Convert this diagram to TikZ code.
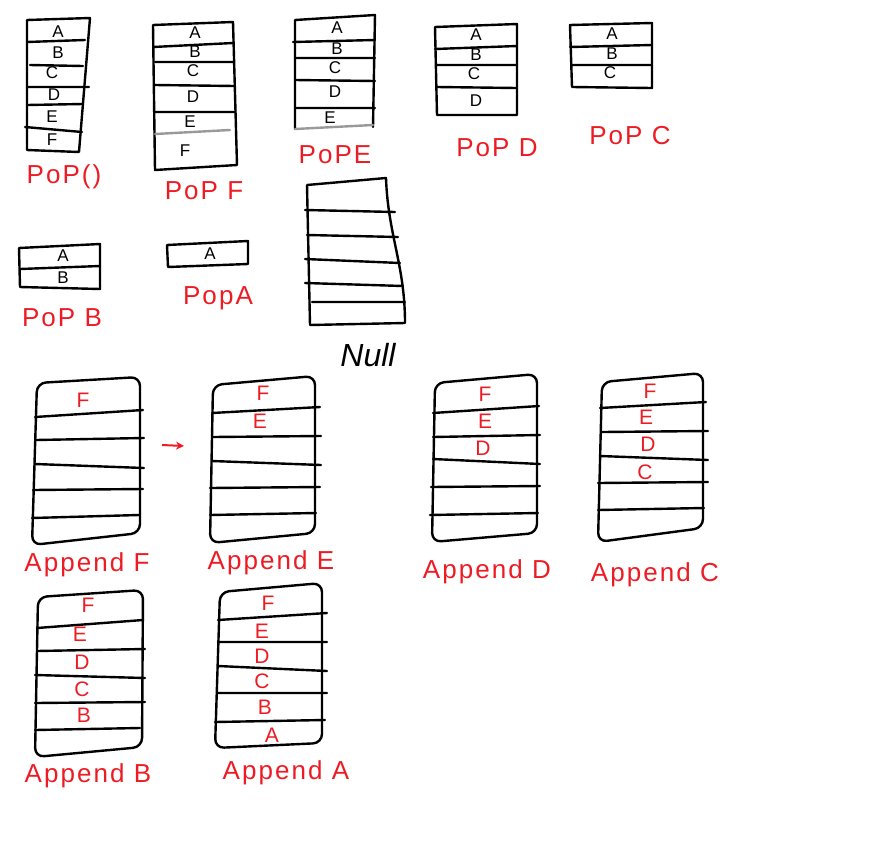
\documentclass[tikz,border=0pt]{standalone}
\usepackage{fontspec}
\setmainfont{Liberation Sans}
\usetikzlibrary{arrows.meta}
\definecolor{pred}{HTML}{ED1C24}
\tikzset{
  ln/.style={line width=2.4pt, line join=round, line cap=round},
  rbox/.style={ln, rounded corners=9pt},
  bl/.style={inner sep=0pt, font=\fontsize{17}{17}\selectfont},
  rl/.style={inner sep=0pt, text=pred, font=\fontsize{21}{21}\selectfont},
  lbl/.style={inner sep=0pt, text=pred, font=\fontsize{26}{26}\selectfont\addfontfeature{LetterSpace=8}},
}
\begin{document}
\begin{tikzpicture}[x=1pt,y=-1pt]
\useasboundingbox (0,0) rectangle (887,847);
% ---------- Pop() ----------
\draw[ln] (27,20) -- (90,18) -- (79,152) -- (27,150) -- cycle;
\draw[ln] (27,42) -- (85,40) (30,65) -- (83,66) (27,87) -- (89,87) (27,105) -- (83,104) (25,127) -- (82,132);
\node[bl] (s1a) at (58,32) {A};
\node[bl] (s1b) at (58,53) {B};
\node[bl] (s1c) at (52,73) {C};
\node[bl] (s1d) at (54,95) {D};
\node[bl] (s1e) at (52,117) {E};
\node[bl] (s1f) at (52,140) {F};
\node[lbl] (l1) at (64,177) {PoP()};
% ---------- Pop F ----------
\draw[ln] (153,25) -- (233,22) -- (237,165) -- (155,170) -- cycle;
\draw[ln] (153,47) -- (233,43) (155,62) -- (233,62) (155,85) -- (235,86) (155,112) -- (235,112);
\draw[ln,black!40] (155,134) -- (230,130);
\node[bl] (s2a) at (195,33) {A};
\node[bl] (s2b) at (195,52) {B};
\node[bl] (s2c) at (193,71) {C};
\node[bl] (s2d) at (193,97) {D};
\node[bl] (s2e) at (190,122) {E};
\node[bl] (s2f) at (185,151) {F};
\node[lbl] (l2) at (204,191) {PoP F};
% ---------- PopE ----------
\draw[ln] (295,129) -- (295,20) -- (375,15) -- (373,127);
\draw[ln,black!40] (295,129) -- (373,125);
\draw[ln] (293,42) -- (375,40) (295,58) -- (375,58) (295,80) -- (375,81) (295,108) -- (375,108);
\node[bl] (s3a) at (337,28) {A};
\node[bl] (s3b) at (337,49) {B};
\node[bl] (s3c) at (335,68) {C};
\node[bl] (s3d) at (335,92) {D};
\node[bl] (s3e) at (330,118) {E};
\node[lbl] (l3) at (335,155) {PoPE};
% ---------- Pop D ----------
\draw[ln] (435,27) -- (517,24) -- (517,115) -- (437,115) -- cycle;
\draw[ln] (435,49) -- (517,46) (437,65) -- (517,65) (437,87) -- (517,88);
\node[bl] (s4a) at (476,35) {A};
\node[bl] (s4b) at (476,55) {B};
\node[bl] (s4c) at (474,74) {C};
\node[bl] (s4d) at (476,101) {D};
\node[lbl] (l4) at (497,148) {PoP D};
% ---------- Pop C ----------
\draw[ln] (570,25) -- (652,23) -- (652,88) -- (572,87) -- cycle;
\draw[ln] (570,47) -- (652,45) (572,65) -- (652,65);
\node[bl] (s5a) at (612,34) {A};
\node[bl] (s5b) at (612,54) {B};
\node[bl] (s5c) at (610,73) {C};
\node[lbl] (l5) at (630,136) {PoP C};
% ---------- Pop B ----------
\draw[ln] (19,248) -- (100,244) -- (100,289) -- (20,287) -- cycle;
\draw[ln] (20,269) -- (100,266);
\node[bl] (s6a) at (63,256) {A};
\node[bl] (s6b) at (63,278) {B};
\node[lbl] (l6) at (62,318) {PoP B};
% ---------- Pop A ----------
\draw[ln] (167,245) -- (248,241) -- (248,264) -- (168,267) -- cycle;
\node[bl] (s7a) at (210,254) {A};
\node[lbl] (l7) at (218,298) {PopA};
% ---------- Null ----------
\draw[ln] (307,185) -- (386,178) .. controls (388,235) and (405,265) .. (405,323) -- (310,325) -- cycle;
\draw[ln] (305,210) -- (395,212) (307,235) -- (398,237) (305,259) -- (400,263) (305,283) -- (403,286) (312,302) -- (405,302);
\node[inner sep=0pt, font=\fontsize{32}{32}\selectfont\itshape] (lnull) at (368,355) {Null};
% ---------- Append F ----------
\draw[rbox] (37,383) -- (140,377) -- (140,533) -- (32,545) -- cycle;
\draw[ln] (35,417) -- (143,410) (36,440) -- (144,438) (35,464) -- (144,468) (33,490) -- (143,489) (32,518) -- (139,515);
\node[rl] (a1f) at (83,400) {F};
\node[lbl] (l8) at (87,565) {Append F};
\coordinate (arrs) at (162,445);
\coordinate (arre) at (184,446);
\draw[pred, line width=2pt, -{Stealth[length=8pt,width=8pt]}] (arrs) -- (arre);
% ---------- Append E ----------
\draw[rbox] (213,385) -- (315,376) -- (315,533) -- (210,543) -- cycle;
\draw[ln] (212,413) -- (320,407) (213,437) -- (321,436) (212,461) -- (321,465) (210,488) -- (320,487) (210,515) -- (316,513);
\node[rl] (a2f) at (263,393) {F};
\node[rl] (a2e) at (260,421) {E};
\node[lbl] (l9) at (271,563) {Append E};
% ---------- Append D ----------
\draw[rbox] (435,383) -- (537,374) -- (537,533) -- (432,542) -- cycle;
\draw[ln] (433,413) -- (539,406) (433,437) -- (540,435) (433,459) -- (540,464) (431,487) -- (540,486) (430,515) -- (538,513);
\node[rl] (a3f) at (485,394) {F};
\node[rl] (a3e) at (485,421) {E};
\node[rl] (a3d) at (483,448) {D};
\node[lbl] (l10) at (487,572) {Append D};
% ---------- Append C ----------
\draw[rbox] (602,382) -- (703,373) -- (703,528) -- (598,542) -- cycle;
\draw[ln] (600,408) -- (706,402) (602,432) -- (708,431) (600,456) -- (708,460) (598,483) -- (708,482) (598,510) -- (704,508);
\node[rl] (a4f) at (650,391) {F};
\node[rl] (a4e) at (646,417) {E};
\node[rl] (a4d) at (648,444) {D};
\node[rl] (a4c) at (645,472) {C};
\node[lbl] (l11) at (655,575) {Append C};
% ---------- Append B ----------
\draw[rbox] (38,597) -- (143,590) -- (142,747) -- (35,757) -- cycle;
\draw[ln] (37,628) -- (143,620) (37,651) -- (145,649) (35,675) -- (145,678) (35,703) -- (145,702) (35,730) -- (140,728);
\node[rl] (a5f) at (88,605) {F};
\node[rl] (a5e) at (80,634) {E};
\node[rl] (a5d) at (82,662) {D};
\node[rl] (a5c) at (82,689) {C};
\node[rl] (a5b) at (84,715) {B};
\node[lbl] (l12) at (88,776) {Append B};
% ---------- Append A ----------
\draw[rbox] (220,592) -- (322,583) -- (322,743) -- (215,748) -- cycle;
\draw[ln] (218,620) -- (327,613) (218,642) -- (327,642) (218,666) -- (327,671) (217,693) -- (327,693) (215,722) -- (325,720);
\node[rl] (a6f) at (268,603) {F};
\node[rl] (a6e) at (262,631) {E};
\node[rl] (a6d) at (262,656) {D};
\node[rl] (a6c) at (262,681) {C};
\node[rl] (a6b) at (265,707) {B};
\node[rl] (a6a) at (272,735) {A};
\node[lbl] (l13) at (286,773) {Append A};
\end{tikzpicture}
\end{document}
